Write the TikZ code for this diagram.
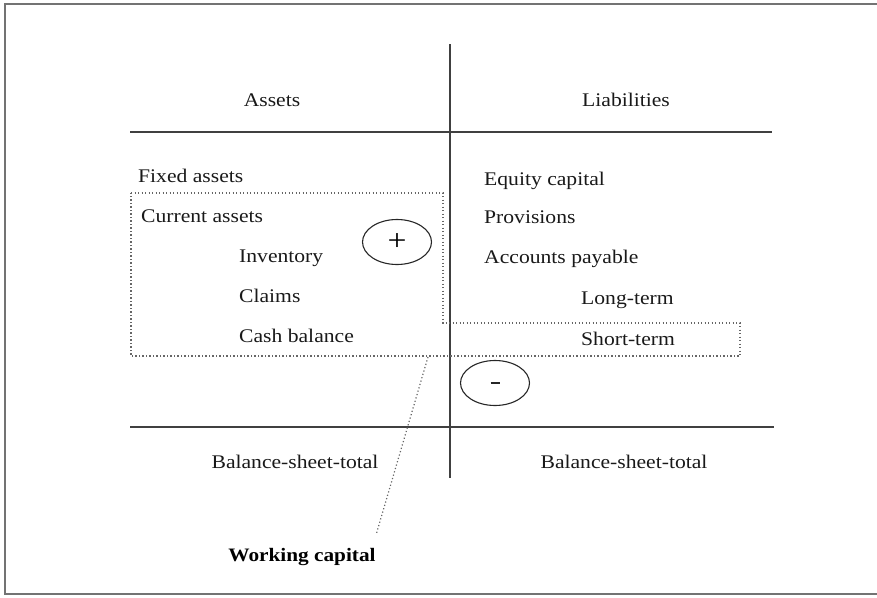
\documentclass[tikz,border=0pt]{standalone}
\usepackage{fontspec}
\setmainfont{Liberation Serif}[FakeStretch=1.12]
\usetikzlibrary{shapes.geometric}
\begin{document}
\begin{tikzpicture}[x=1pt,y=-1pt,
  lbl/.style={inner sep=0pt, font=\fontsize{19.3}{22}\selectfont, text=black!90},
  rule/.style={line width=1.4pt, draw=black!75},
  dotbox/.style={line width=1.2pt, draw=black!60, dash pattern=on 1.2pt off 2.3pt},
  sign/.style={ellipse, draw=black!85, line width=1.1pt, minimum width=69pt, minimum height=45pt, inner sep=0pt}]
\useasboundingbox (0,0) rectangle (877,597);
\draw[draw=black!55, line width=1.6pt] (5,4) rectangle (879,594);
% rules
\coordinate (vt) at (450,44);
\coordinate (vb) at (450,478);
\coordinate (ht1) at (130,132);
\coordinate (ht2) at (772,132);
\coordinate (hb1) at (130,427);
\coordinate (hb2) at (774,427);
\draw[rule] (vt) -- (vb);
\draw[rule] (ht1) -- (ht2);
\draw[rule] (hb1) -- (hb2);
% headings
\node[lbl, anchor=base] (assets) at (272,106) {Assets};
\node[lbl, anchor=base] (liab) at (626,106) {Liabilities};
% left column
\node[lbl, anchor=base west] (fixed) at (138,182) {Fixed assets};
\node[lbl, anchor=base west] (curr) at (141,222) {Current assets};
\node[lbl, anchor=base west] (inv) at (239,262) {Inventory};
\node[lbl, anchor=base west] (claims) at (239,302) {Claims};
\node[lbl, anchor=base west] (cash) at (239,342) {Cash balance};
% right column
\node[lbl, anchor=base west] (equity) at (484,185) {Equity capital};
\node[lbl, anchor=base west] (prov) at (484,223) {Provisions};
\node[lbl, anchor=base west] (ap) at (484,263) {Accounts payable};
\node[lbl, anchor=base west] (lt) at (581,304) {Long-term};
\node[lbl, anchor=base west] (st) at (581,345) {Short-term};
% totals
\node[lbl, anchor=base] (bst1) at (295,468) {Balance-sheet-total};
\node[lbl, anchor=base] (bst2) at (624,468) {Balance-sheet-total};
% signs
\node[sign, font=\fontsize{30}{32}\selectfont] (plus) at (397,242) {+};
\node[sign] (minus) at (495,383) {\textcolor{black!85}{\rule{9pt}{2.8pt}}};
% dotted working capital outline
\coordinate (d1) at (131,193);
\coordinate (d2) at (443,193);
\coordinate (d3) at (443,323);
\coordinate (d4) at (740,323);
\coordinate (d5) at (740,356);
\coordinate (d6) at (131,356);
\draw[dotbox] (d1) -- (d2) -- (d3) -- (d4) -- (d5) -- (d6) -- cycle;
% label
\node[lbl, anchor=base, font=\fontsize{19}{22}\selectfont\bfseries, text=black] (wc) at (302,561) {Working capital};
\coordinate (wcs) at (428,357);
\coordinate (wce) at (376,535);
\draw[dotbox] (wcs) -- (wce);
\end{tikzpicture}
\end{document}
